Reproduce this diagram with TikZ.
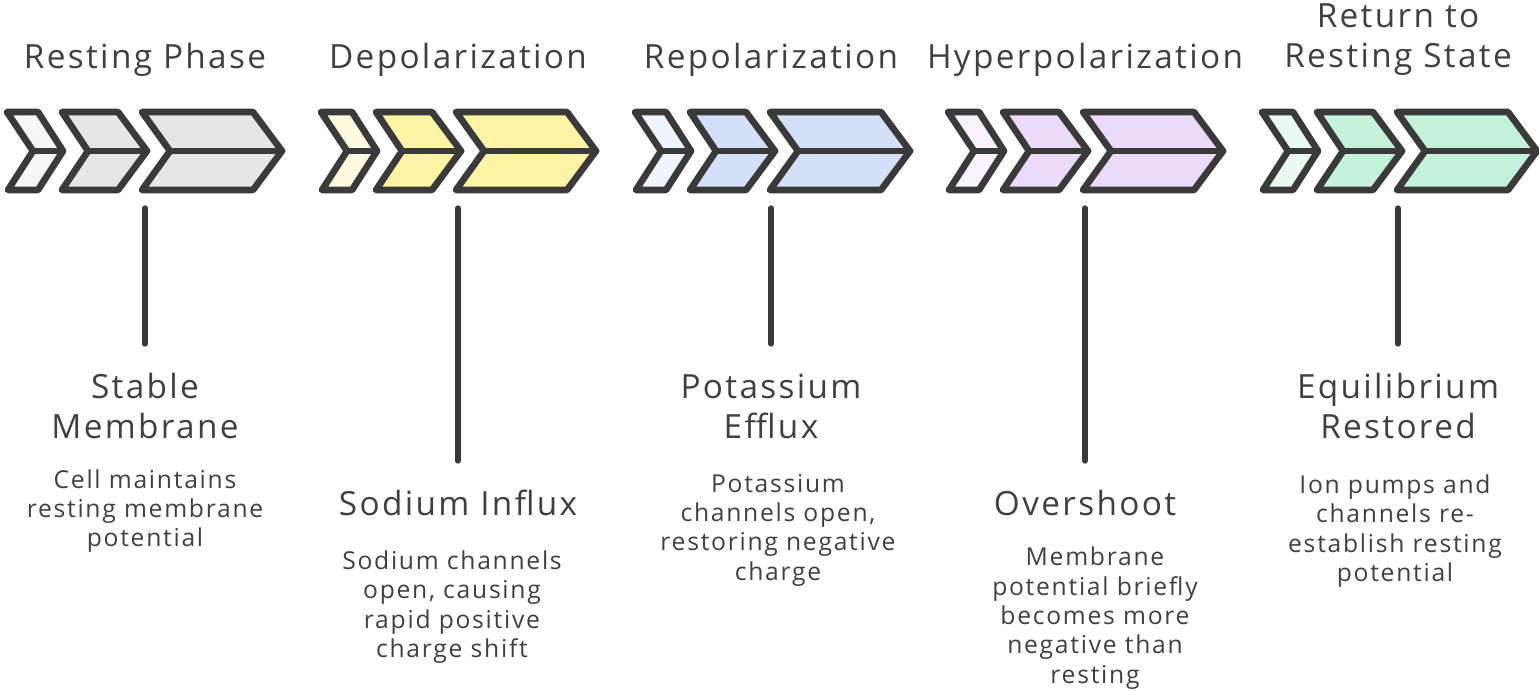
\documentclass[tikz,border=0pt]{standalone}
\usepackage{fontspec}
\setmainfont{Open Sans}
\newfontfamily\wideface[LetterSpace=7]{Open Sans}
\definecolor{ink}{HTML}{3A3A3A}
\definecolor{txt}{HTML}{404040}
\definecolor{cgray}{HTML}{E6E6E6}
\definecolor{cyellow}{HTML}{FFF3A6}
\definecolor{cblue}{HTML}{D4E0F8}
\definecolor{cpurple}{HTML}{EBDAFA}
\definecolor{cgreen}{HTML}{C4F1DA}
\tikzset{
  chev/.style={draw=ink, line width=5pt, line join=round},
  midline/.style={draw=ink, line width=5pt, line cap=round},
  bar/.style={draw=ink, line width=4pt, line cap=round},
  title/.style={text=txt, align=center, font=\wideface\fontsize{25}{30}\selectfont},
  head/.style={text=txt, align=center, font=\wideface\fontsize{25}{30}\selectfont},
  desc/.style={text=txt, align=center, font=\wideface\fontsize{18.5}{22}\selectfont},
}
\newcommand\chevgroup[2]{%
  % chevron 1
  \path[chev, fill=#2!35] (#1,112) -- ({#1+31},112) -- ({#1+56},151) -- ({#1+31},190) -- ({#1+1},190) -- ({#1+26},151) -- cycle;
  \path[midline] ({#1+26},151) -- ({#1+56},151);
  % chevron 2
  \path[chev, fill=#2] ({#1+55},112) -- ({#1+111},112) -- ({#1+140},151) -- ({#1+111},190) -- ({#1+55},190) -- ({#1+81},151) -- cycle;
  \path[midline] ({#1+81},151) -- ({#1+140},151);
  % chevron 3
  \path[chev, fill=#2] ({#1+135},112) -- ({#1+246},112) -- ({#1+275},151) -- ({#1+246},190) -- ({#1+135},190) -- ({#1+163},151) -- cycle;
  \path[midline] ({#1+163},151) -- ({#1+275},151);
}
\begin{document}
\begin{tikzpicture}[x=0.75pt, y=-0.75pt]
\useasboundingbox (0,0) rectangle (1539,690);

\chevgroup{7}{cgray}
\chevgroup{321}{cyellow}
\chevgroup{635}{cblue}
\chevgroup{948}{cpurple}
\chevgroup{1262}{cgreen}

% titles
\node[title] (t1) at (145,60) {Resting Phase};
\node[title] (t2) at (458,60) {Depolarization};
\node[title] (t3) at (771,60) {Repolarization};
\node[title] (t4) at (1085,60) {Hyperpolarization};
\node[title] (t5) at (1398,40) {Return to\\Resting State};

% connector coordinates
\coordinate (s1) at (145,208);
\coordinate (e1) at (145,344);
\coordinate (s2) at (458,208);
\coordinate (e2) at (458,461);
\coordinate (s3) at (771,208);
\coordinate (e3) at (771,344);
\coordinate (s4) at (1085,208);
\coordinate (e4) at (1085,461);
\coordinate (s5) at (1398,208);
\coordinate (e5) at (1398,344);
\draw[bar] (s1) -- (e1);
\draw[bar] (s2) -- (e2);
\draw[bar] (s3) -- (e3);
\draw[bar] (s4) -- (e4);
\draw[bar] (s5) -- (e5);

% headings
\node[head] (h1) at (145,406) {Stable\\Membrane};
\node[head] (h2) at (458,503) {Sodium Influx};
\node[head] (h3) at (771,406) {Potassium\\Efflux};
\node[head] (h4) at (1085,503) {Overshoot};
\node[head] (h5) at (1398,406) {Equilibrium\\Restored};

% descriptions
\node[desc] (d1) at (145,511) {Cell maintains\\resting membrane\\potential};
\node[desc] (d2) at (452,607) {Sodium channels\\open, causing\\rapid positive\\charge shift};
\node[desc] (d3) at (778,530) {Potassium\\channels open,\\restoring negative\\charge};
\node[desc] (d4) at (1095,618) {Membrane\\potential briefly\\becomes more\\negative than\\resting};
\node[desc] (d5) at (1395,531) {Ion pumps and\\channels re-\\establish resting\\potential};
\end{tikzpicture}
\end{document}
